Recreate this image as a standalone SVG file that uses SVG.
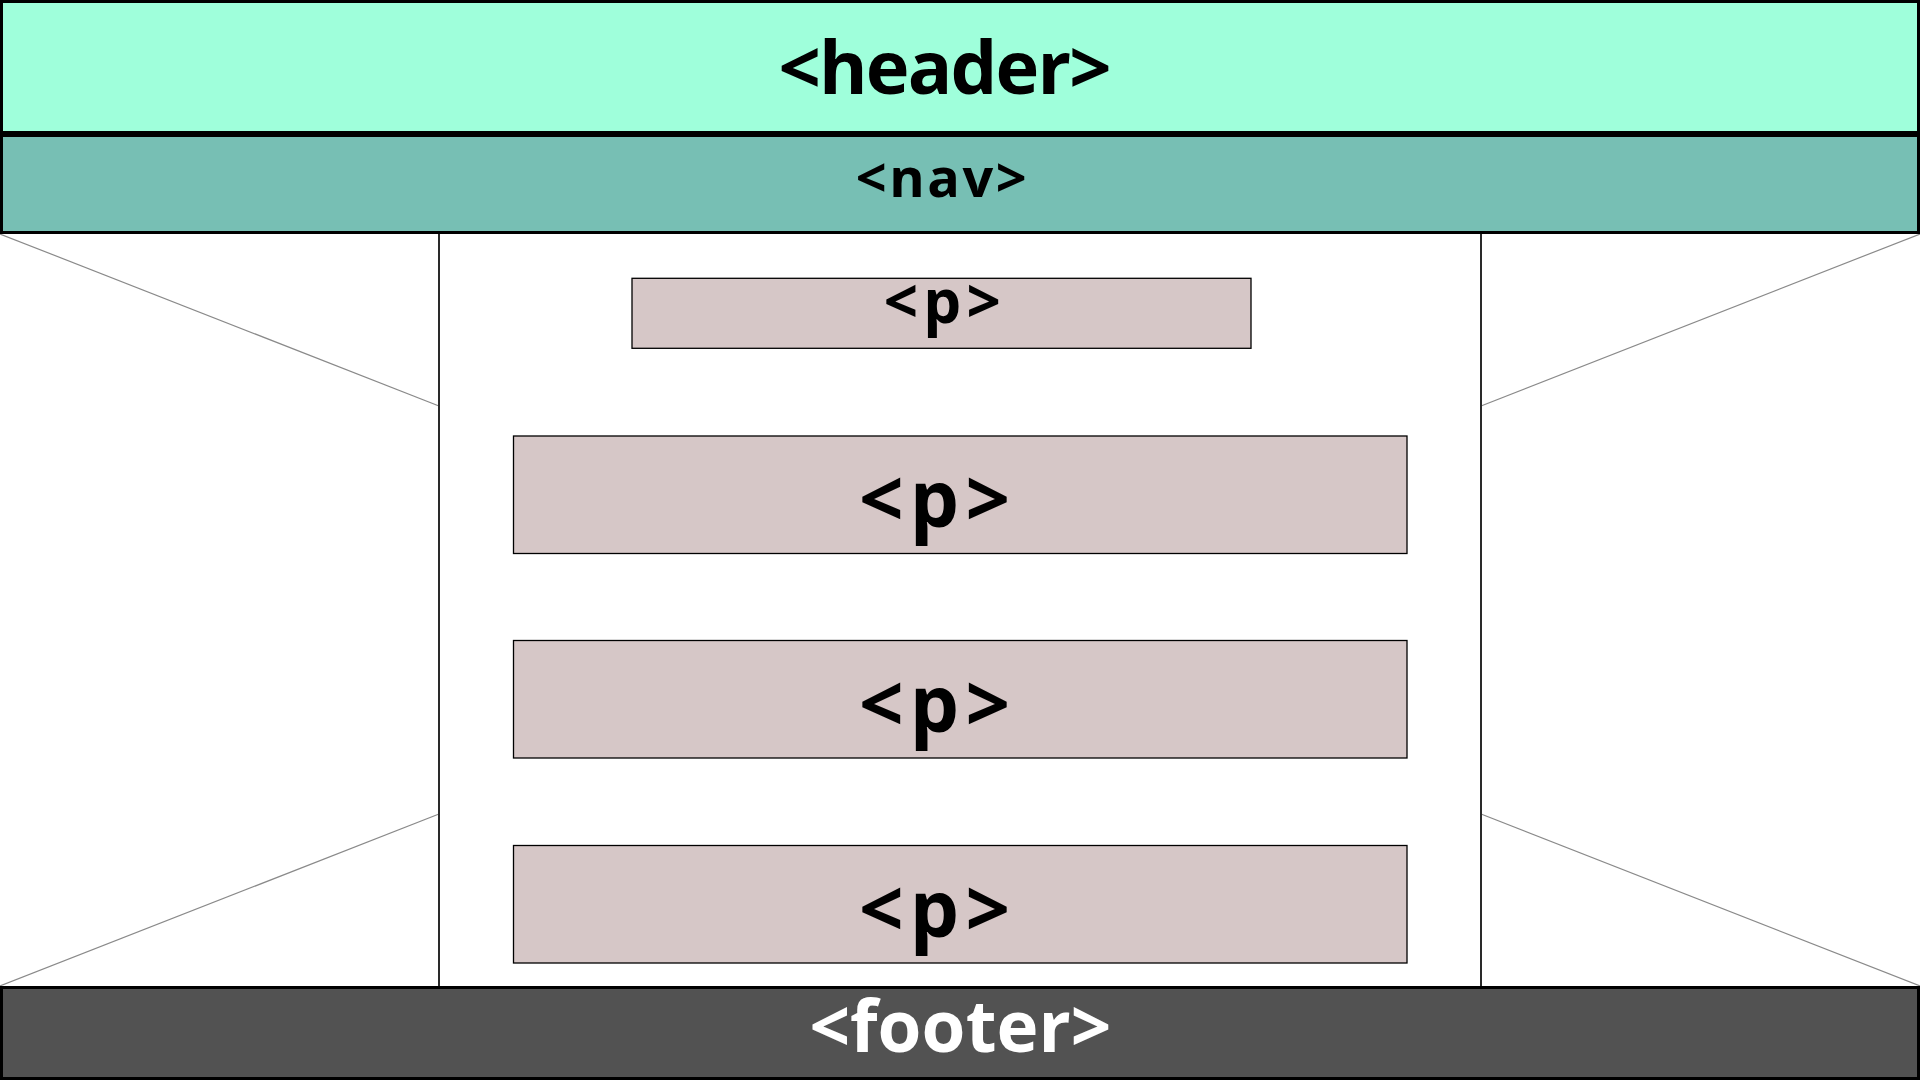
<svg xmlns="http://www.w3.org/2000/svg" width="1920" height="1080" viewBox="0 0 1920 1080">
  <style>
    .band { stroke: #000; stroke-width: 3; }
    .para { fill: #D6C7C7; stroke: #000; stroke-width: 1.3; }
    .lbl { font-family: "Open Sans", "Noto Sans", "DejaVu Sans", sans-serif; font-weight: bold; text-anchor: middle; fill: #000; }
    .diag { stroke: #8A8A8A; stroke-width: 1.2; fill: none; }
    .col { stroke: #2A2A2A; stroke-width: 2; fill: none; }
  </style>
  <rect x="0" y="0" width="1920" height="1080" fill="#FFFFFF"/>
  <g id="connectors">
    <line class="diag" x1="0" y1="234" x2="439" y2="406"/>
    <line class="diag" x1="0" y1="986" x2="439" y2="814"/>
    <line class="diag" x1="1920" y1="234" x2="1481" y2="406"/>
    <line class="diag" x1="1920" y1="986" x2="1481" y2="814"/>
    <line class="col" x1="439" y1="234" x2="439" y2="986"/>
    <line class="col" x1="1481" y1="234" x2="1481" y2="986"/>
  </g>
  <g id="header">
    <rect class="band" x="1.5" y="1.5" width="1917" height="131" fill="#9FFFDB"/>
    <text class="lbl" x="945" y="94.3" font-size="74" textLength="333" lengthAdjust="spacing">&lt;header&gt;</text>
  </g>
  <g id="nav">
    <rect class="band" x="1.5" y="135.5" width="1917" height="97" fill="#77BFB4"/>
    <text class="lbl" x="941.2" y="196.7" font-size="54" textLength="171" lengthAdjust="spacing">&lt;nav&gt;</text>
  </g>
  <g id="p-small">
    <rect class="para" x="632" y="278.3" width="619" height="70"/>
    <text class="lbl" x="942.2" y="323.3" font-size="60" textLength="117" lengthAdjust="spacing">&lt;p&gt;</text>
  </g>
  <g id="p-1">
    <rect class="para" x="513.5" y="436" width="893.5" height="117.5"/>
    <text class="lbl" x="934.5" y="527.3" font-size="78" textLength="151" lengthAdjust="spacing">&lt;p&gt;</text>
  </g>
  <g id="p-2">
    <rect class="para" x="513.5" y="640.5" width="893.5" height="117.5"/>
    <text class="lbl" x="934.5" y="731.8" font-size="78" textLength="151" lengthAdjust="spacing">&lt;p&gt;</text>
  </g>
  <g id="p-3">
    <rect class="para" x="513.5" y="845.5" width="893.5" height="117.5"/>
    <text class="lbl" x="934.5" y="936.8" font-size="78" textLength="151" lengthAdjust="spacing">&lt;p&gt;</text>
  </g>
  <g id="footer">
    <rect class="band" x="1.5" y="987.5" width="1917" height="91" fill="#525252"/>
    <text class="lbl" x="960.4" y="1051.7" font-size="71" textLength="302" lengthAdjust="spacing" style="fill:#FFFFFF">&lt;footer&gt;</text>
  </g>
</svg>
